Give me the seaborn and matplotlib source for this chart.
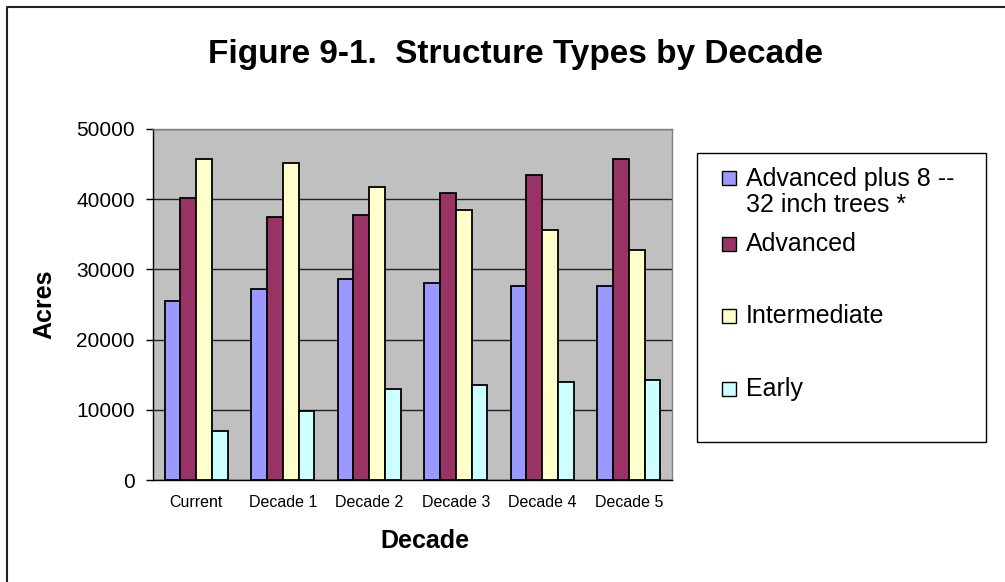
import numpy as np
import pandas as pd
import matplotlib
matplotlib.use("Agg")
import matplotlib.pyplot as plt
from matplotlib.patches import Rectangle
from matplotlib.lines import Line2D
import seaborn as sns

# Acres by structure type for each planning period
decades = ["Current", "Decade 1", "Decade 2", "Decade 3", "Decade 4", "Decade 5"]
advanced_plus = [25500, 27200, 28700, 28100, 27600, 27600]
advanced = [40100, 37500, 37800, 40900, 43500, 45700]
intermediate = [45700, 45200, 41800, 38400, 35600, 32700]
early = [7000, 9900, 13000, 13600, 13900, 14200]

series_names = ["Advanced plus 8 --\n32 inch trees *", "Advanced", "Intermediate", "Early"]
series_values = [advanced_plus, advanced, intermediate, early]
series_colors = ["#9999FF", "#993366", "#FFFFCC", "#CCFFFF"]
y_ticks = [0, 10000, 20000, 30000, 40000, 50000]

rows = []
for name, vals in zip(series_names, series_values):
    for d, v in zip(decades, vals):
        rows.append({"Decade": d, "Acres": v, "Structure": name})
df = pd.DataFrame(rows)

sns.set_style("white")
plt.rcParams["font.family"] = ["Liberation Sans", "DejaVu Sans"]
plt.rcParams["text.color"] = "black"
plt.rcParams["axes.labelcolor"] = "black"
plt.rcParams["xtick.color"] = "black"
plt.rcParams["ytick.color"] = "black"

W, H = 1005, 582
fig = plt.figure(figsize=(W / 100, H / 100), dpi=100)
fig.patch.set_facecolor("white")

def fx(px):
    return px / W

def fy(py):
    return 1 - py / H

ax = fig.add_axes([fx(153), fy(480), fx(672) - fx(153), fy(129) - fy(480)])
ax.set_facecolor("#C0C0C0")

sns.barplot(
    data=df, x="Decade", y="Acres", hue="Structure",
    order=decades, hue_order=series_names,
    palette=series_colors, width=0.73,
    edgecolor="black", linewidth=1.3, saturation=1,
    legend=False, ax=ax, zorder=3,
)

ax.set_xlim(-0.5, len(decades) - 0.5)
ax.set_ylim(0, 50000)
ax.set_yticks(y_ticks)
ax.set_yticklabels([str(t) for t in y_ticks], fontsize=15, color="black")
ax.yaxis.grid(True, color="#202020", linewidth=1.0, zorder=1)
ax.xaxis.grid(False)
ax.set_axisbelow(True)

# category labels at centres, tick marks at the group boundaries
ax.set_xticks(range(len(decades)))
ax.set_xticklabels(decades, fontsize=11.5, color="black")
ax.set_xticks(np.arange(-0.5, len(decades)), minor=True)
ax.tick_params(axis="x", which="major", length=0, pad=11)
ax.tick_params(axis="x", which="minor", length=5, width=1, color="black", direction="out")
ax.tick_params(axis="y", which="major", length=5, width=1, color="black", direction="out", pad=8, left=True)
ax.set_xlabel("")
ax.set_ylabel("")

for side in ["left", "bottom"]:
    ax.spines[side].set_color("black")
    ax.spines[side].set_linewidth(1.0)
for side in ["top", "right"]:
    ax.spines[side].set_color("#808080")
    ax.spines[side].set_linewidth(1.0)
    ax.spines[side].set_visible(True)

# titles
fig.text(fx(515), fy(54), "Figure 9-1.  Structure Types by Decade",
         fontsize=24, fontweight="bold", ha="center", va="center", color="black")
fig.text(fx(425), fy(541), "Decade", fontsize=18, fontweight="bold",
         ha="center", va="center", color="black")
fig.text(fx(44), fy(304), "Acres", fontsize=18, fontweight="bold",
         ha="center", va="center", rotation=90, color="black")

# legend box
fig.patches.append(Rectangle((fx(697), fy(442)), fx(986) - fx(697), fy(153) - fy(442),
                             transform=fig.transFigure, facecolor="white",
                             edgecolor="black", linewidth=1.0))
entry_y = [192, 244, 316, 389]
for name, col, yc in zip(series_names, series_colors, entry_y):
    nlines = name.count("\n") + 1
    sq_y = yc - (nlines - 1) * 14
    fig.patches.append(Rectangle((fx(722), fy(sq_y + 7)), fx(14), fy(0) - fy(14),
                                 transform=fig.transFigure, facecolor=col,
                                 edgecolor="black", linewidth=1.0))
    fig.text(fx(746), fy(yc), name, fontsize=18, ha="left", va="center",
             linespacing=1.15, color="black")

# outer chart frame
fig.add_artist(Line2D([fx(6.5), fx(6.5), fx(1005)], [fy(582), fy(6.5), fy(6.5)],
                      transform=fig.transFigure, color="#222222", linewidth=1.5))

fig.savefig("out.png", dpi=100)
